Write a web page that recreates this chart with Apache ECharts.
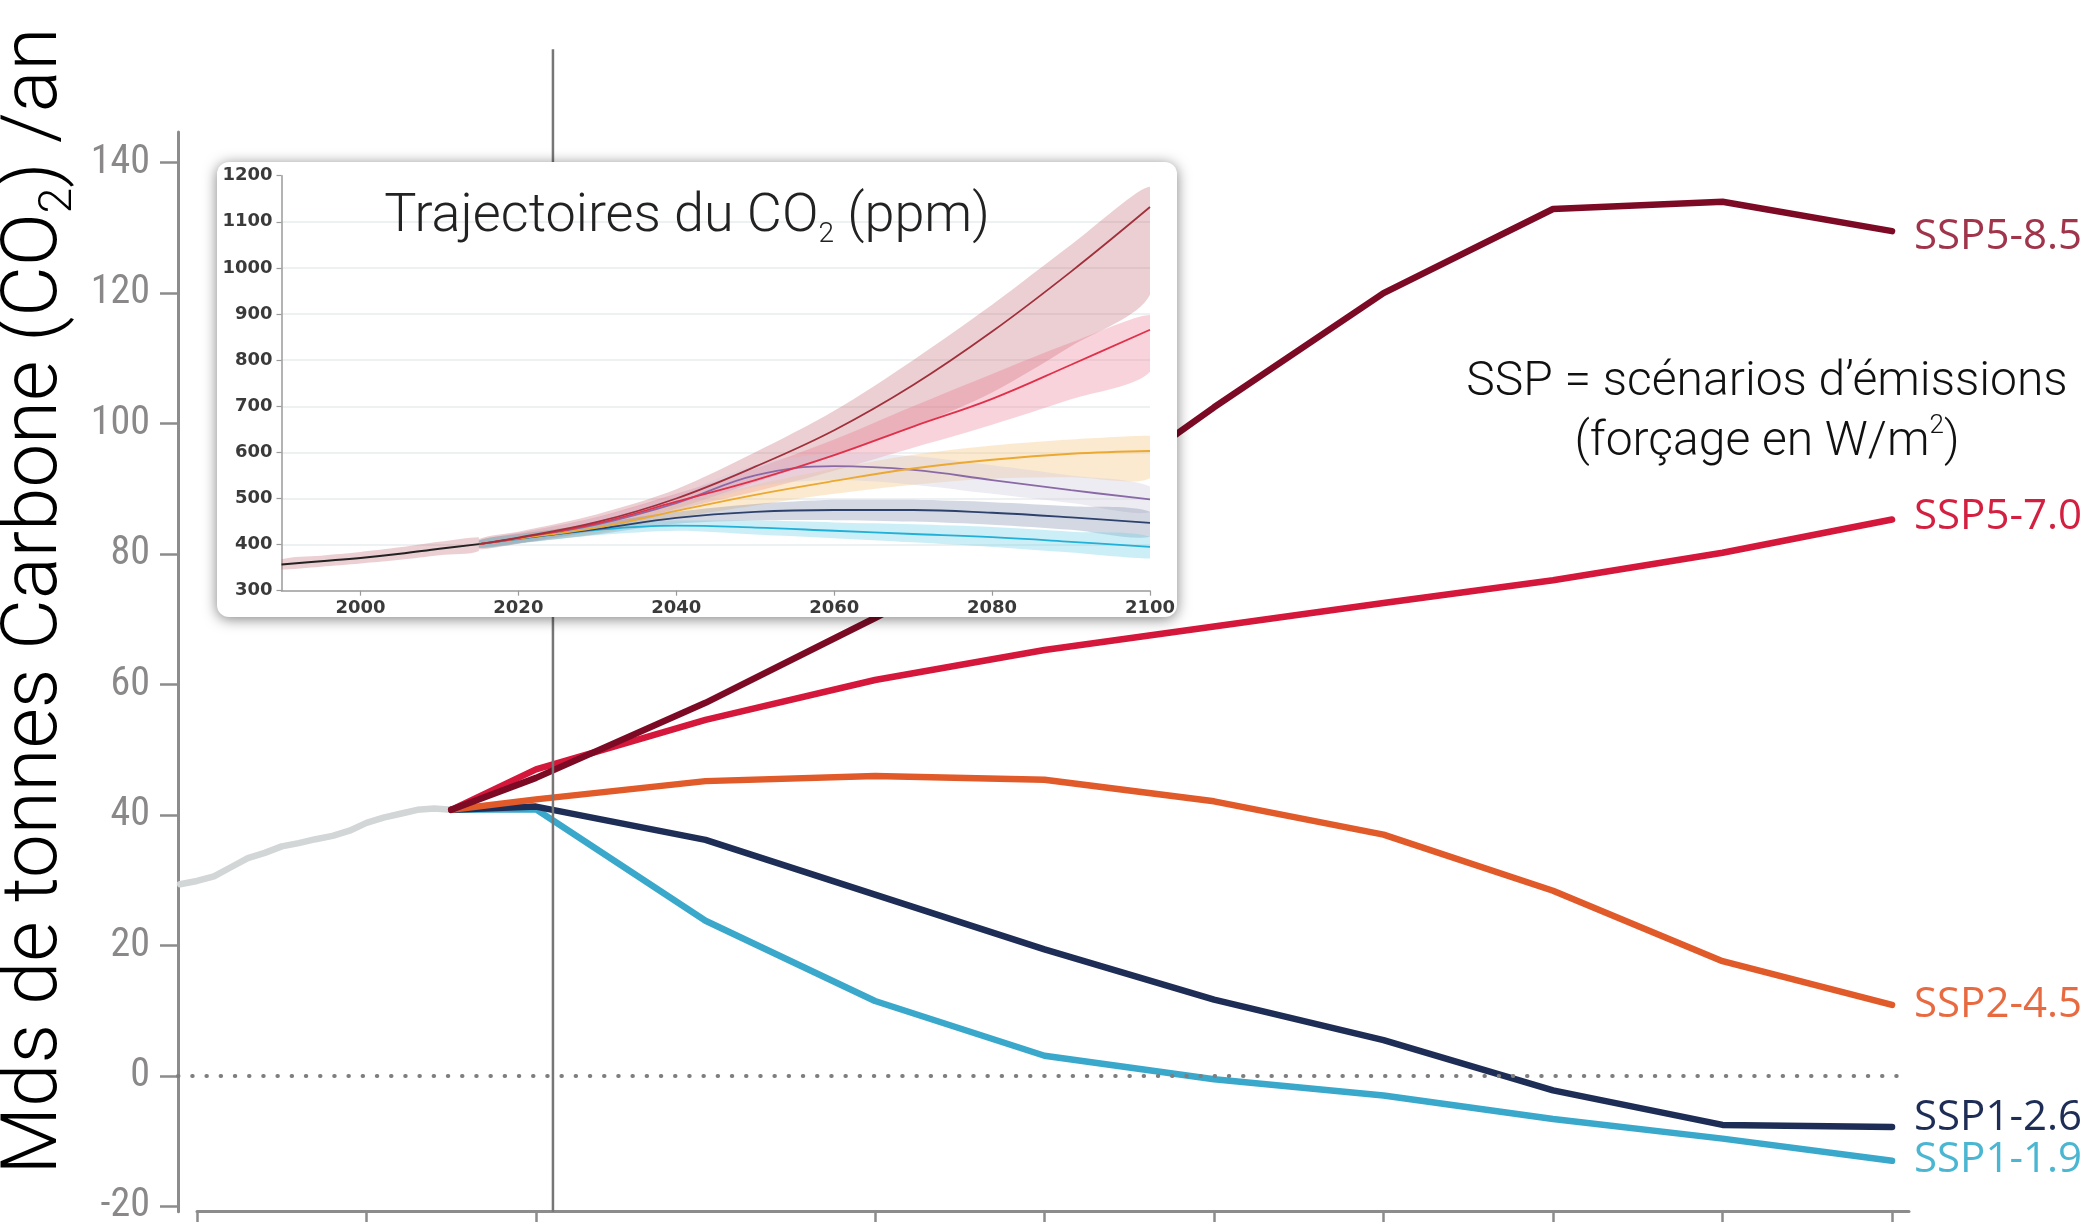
<!DOCTYPE html>
<html>
<head>
<meta charset="utf-8">
<script src="https://cdn.jsdelivr.net/npm/echarts@6/dist/echarts.min.js"></script>
<style>
  html, body { margin: 0; padding: 0; background: #ffffff; }
  #chart { width: 2092px; height: 1222px; }
</style>
</head>
<body>
<div id="chart"></div>
<script>
// ---- Annual CO2 emissions, Gt CO2 / year ----
const histYears = [1999, 2000, 2001, 2002, 2003, 2004, 2005, 2006, 2007, 2008, 2009, 2010, 2011, 2012, 2013, 2014, 2015];
const histEmissions = [29.4, 29.9, 30.6, 32.0, 33.4, 34.2, 35.2, 35.7, 36.3, 36.8, 37.6, 38.8, 39.6, 40.2, 40.8, 41.0, 40.8];

const scenarioYears = [2015, 2020, 2030, 2040, 2050, 2060, 2070, 2080, 2090, 2100];
const ssp119 = [40.8, 40.9, 23.8, 11.5, 3.1, -0.5, -3.0, -6.6, -9.6, -13.0];
const ssp126 = [40.8, 41.3, 36.2, 27.8, 19.4, 11.7, 5.5, -2.2, -7.5, -7.8];
const ssp245 = [40.8, 42.4, 45.2, 46.0, 45.4, 42.1, 37.0, 28.4, 17.6, 10.9];
const ssp570 = [40.8, 47.0, 54.6, 60.7, 65.3, 68.9, 72.5, 76.0, 80.2, 85.3];
const ssp585 = [40.8, 45.7, 57.2, 70.2, 84.0, 102.5, 120.0, 132.9, 134.0, 129.5];

const emissionTicks = [-20, 0, 20, 40, 60, 80, 100, 120, 140];
const yearTicks = [2000, 2010, 2020, 2040, 2050, 2060, 2070, 2080, 2090, 2100];
const todayYear = 2021;

// ---- Atmospheric CO2 concentration, ppm ----
const co2HistYears = [1990, 1995, 2000, 2005, 2010, 2015];
const co2Hist      = [357, 364, 371, 380, 391, 401];
const co2HistLow   = [346, 352, 359, 367, 377, 386];
const co2HistHigh  = [368, 376, 384, 394, 406, 416];

const co2Years = [2015, 2020, 2030, 2040, 2050, 2060, 2070, 2080, 2090, 2100];
const co2Ssp119     = [401, 412, 432, 441, 437, 430, 423, 416, 406, 395];
const co2Ssp119Low  = [393, 402, 420, 430, 422, 414, 405, 395, 383, 370];
const co2Ssp119High = [409, 421, 442, 452, 452, 448, 444, 438, 428, 417];
const co2Ssp126     = [401, 413, 434, 458, 471, 475, 475, 469, 459, 447];
const co2Ssp126Low  = [393, 403, 422, 445, 452, 453, 450, 443, 432, 417];
const co2Ssp126High = [409, 423, 446, 471, 488, 497, 497, 492, 483, 471];
const co2Ssp245     = [401, 413, 437, 473, 508, 538, 565, 584, 597, 603];
const co2Ssp245Low  = [393, 403, 424, 458, 485, 510, 530, 543, 546, 544];
const co2Ssp245High = [409, 423, 450, 488, 530, 565, 595, 615, 628, 636];
const co2Ssp370     = [401, 414, 446, 493, 540, 594, 656, 716, 790, 866];
const co2Ssp370Low  = [393, 403, 432, 475, 515, 560, 610, 660, 715, 775];
const co2Ssp370High = [409, 425, 460, 510, 565, 628, 700, 770, 838, 898];
const co2Ssp534     = [401, 414, 444, 490, 550, 570, 562, 540, 518, 498];
const co2Ssp534Low  = [393, 403, 430, 472, 525, 540, 530, 510, 490, 470];
const co2Ssp534High = [409, 425, 458, 508, 572, 598, 592, 572, 550, 526];
const co2Ssp585     = [401, 415, 449, 500, 569, 648, 746, 862, 992, 1132];
const co2Ssp585Low  = [390, 402, 432, 478, 535, 592, 655, 730, 830, 942];
const co2Ssp585High = [412, 428, 466, 520, 600, 690, 800, 920, 1050, 1176];

const co2YearTicks = [2000, 2020, 2040, 2060, 2080, 2100];

// ---- layout / style constants ----
const Y_MIN = -20.8, Y_MAX = 144.7;
const REF_LINE_TOP = 157.4;
const AXIS_GRAY = '#8c8c8c';
const LIGHT = '"Roboto", "Noto Sans", sans-serif';

const chart = echarts.init(document.getElementById('chart'), null, { renderer: 'canvas' });

function pairs(xs, ys) { return xs.map((x, i) => [x, ys[i]]); }

function scenarioLine(name, values, color, labelColor, labelDy) {
  return {
    type: 'line', name, xAxisIndex: 0, yAxisIndex: 0, z: 2,
    data: pairs(scenarioYears, values),
    symbol: 'none', silent: true,
    lineStyle: { color, width: 6.5, cap: 'round', join: 'round' },
    endLabel: {
      show: true, formatter: '{a}', distance: 22, offset: [0, labelDy],
      color: labelColor, fontSize: 42, fontFamily: '"Open Sans", "Noto Sans", sans-serif'
    }
  };
}

function band(years, lo, hi, color) {
  return {
    type: 'custom', xAxisIndex: 2, yAxisIndex: 2, z: 12, silent: true,
    data: years.map((y, i) => [y, lo[i], hi[i]]),
    encode: { x: 0, y: [1, 2] },
    renderItem(params, api) {
      if (params.dataIndex !== 0) return null;
      const top = years.map((y, i) => api.coord([y, hi[i]]));
      const bottom = years.map((y, i) => api.coord([y, lo[i]])).reverse();
      const pts = top.concat(bottom);
      const xs = pts.map(p => p[0]), ys = pts.map(p => p[1]);
      return {
        type: 'polygon',
        shape: {
          points: pts, smooth: 0.3,
          smoothConstraint: [[Math.min(...xs), Math.min(...ys)], [Math.max(...xs), Math.max(...ys)]]
        },
        style: { fill: color }
      };
    }
  };
}

function co2Line(years, values, color, width) {
  return {
    type: 'line', xAxisIndex: 2, yAxisIndex: 2, z: 13, silent: true,
    data: pairs(years, values), symbol: 'none', smooth: 0.4,
    lineStyle: { color, width }
  };
}

const insetLabel = {
  fontFamily: '"DejaVu Sans", sans-serif', fontWeight: 'bold', fontSize: 18, color: '#3a3a3a',
  formatter: v => String(v)
};

const option = {
  animation: false,
  backgroundColor: '#ffffff',
  grid: [
    { left: 178, top: 132, width: 1731, height: 1079.7, outerBoundsMode: 'none' },
    { left: 197, top: 1100, width: 1712, height: 111.7, outerBoundsMode: 'none' },
    { left: 281.5, top: 175.7, width: 868.5, height: 415, outerBoundsMode: 'none' }
  ],
  xAxis: [
    { gridIndex: 0, type: 'value', min: 1998.88, max: 2101.0, show: false },
    {
      gridIndex: 1, type: 'value', min: 2000, max: 2101.0, z: 1,
      axisLine: { show: true, onZero: false, lineStyle: { color: AXIS_GRAY, width: 3 } },
      axisTick: { show: true, length: 11, customValues: yearTicks, lineStyle: { color: AXIS_GRAY, width: 2.5 } },
      axisLabel: { show: false }, splitLine: { show: false }
    },
    {
      gridIndex: 2, type: 'value', min: 1990, max: 2100, z: 11,
      axisLine: { show: true, onZero: false, lineStyle: { color: '#9a9a9a', width: 1.5 } },
      axisTick: { show: true, length: 5, customValues: co2YearTicks, lineStyle: { color: '#9a9a9a', width: 1.2 } },
      axisLabel: Object.assign({ customValues: co2YearTicks, margin: 9 }, insetLabel),
      splitLine: { show: false }
    }
  ],
  yAxis: [
    {
      gridIndex: 0, type: 'value', min: Y_MIN, max: Y_MAX, z: 1,
      axisLine: { show: true, onZero: false, lineStyle: { color: AXIS_GRAY, width: 3 } },
      axisTick: { show: true, length: 18, customValues: emissionTicks, lineStyle: { color: AXIS_GRAY, width: 2.5 } },
      axisLabel: {
        customValues: emissionTicks, margin: 28, color: '#8a8888', fontSize: 40, fontWeight: 'normal',
        fontFamily: '"Liberation Sans Narrow", "Roboto Condensed", "Noto Sans Condensed", "DejaVu Sans Condensed", "Roboto", sans-serif'
      },
      splitLine: { show: false }
    },
    { gridIndex: 1, type: 'value', min: 0, max: 1, show: false },
    {
      gridIndex: 2, type: 'value', min: 300, max: 1200, interval: 100, z: 11,
      axisLine: { show: true, onZero: false, lineStyle: { color: '#9a9a9a', width: 1.5 } },
      axisTick: { show: true, length: 5, lineStyle: { color: '#9a9a9a', width: 1.2 } },
      axisLabel: Object.assign({ margin: 9 }, insetLabel),
      splitLine: { show: true, showMinLine: false, showMaxLine: false, lineStyle: { color: '#e8ecec', width: 1.5 } }
    }
  ],
  graphic: [
    {
      type: 'rect', z: 10, silent: true,
      shape: { x: 217, y: 162, width: 960, height: 455, r: 12 },
      style: { fill: '#ffffff', shadowBlur: 14, shadowColor: 'rgba(0,0,0,0.5)', shadowOffsetX: 0, shadowOffsetY: 2 }
    },
    {
      type: 'text', z: 14, silent: true, x: 687, y: 217,
      style: {
        text: 'Trajectoires du CO{sub|2} (ppm)',
        fill: '#222222', fontSize: 54, fontWeight: 300, fontFamily: LIGHT,
        align: 'center', verticalAlign: 'middle', lineHeight: 64,
        rich: { sub: { fontSize: 28, fontWeight: 300, fontFamily: LIGHT, fill: '#222222', lineHeight: 25, verticalAlign: 'bottom' } }
      }
    },
    {
      type: 'text', z: 5, silent: true, x: 36, y: 601, rotation: Math.PI / 2,
      style: {
        text: 'Mds de tonnes Carbone (CO{sub|2}) /an',
        fill: '#000000', fontSize: 78, fontWeight: 300, fontFamily: LIGHT,
        align: 'center', verticalAlign: 'middle', lineHeight: 92,
        rich: { sub: { fontSize: 46, fontWeight: 300, fontFamily: LIGHT, fill: '#000000', lineHeight: 50, verticalAlign: 'bottom' } }
      }
    },
    {
      type: 'text', z: 5, silent: true, x: 1767, y: 413,
      style: {
        text: 'SSP = scénarios d\u2019émissions\n(forçage en W/m{sup|2})',
        fill: '#111111', fontSize: 48, fontWeight: 300, fontFamily: LIGHT,
        align: 'center', verticalAlign: 'middle', lineHeight: 60,
        rich: { sup: { fontSize: 26, fontWeight: 300, fontFamily: LIGHT, fill: '#111111', lineHeight: 36, verticalAlign: 'top' } }
      }
    }
  ],
  series: [
    {
      type: 'line', name: 'historique', xAxisIndex: 0, yAxisIndex: 0, z: 2, silent: true,
      data: pairs(histYears, histEmissions), symbol: 'none',
      lineStyle: { color: '#d2d6d6', width: 6.5, cap: 'round', join: 'round' },
      markLine: {
        silent: true, symbol: ['none', 'none'], label: { show: false },
        lineStyle: { color: '#7e7e7e', width: 4, type: [0.5, 13.7], cap: 'round' },
        data: [{ yAxis: 0 }]
      }
    },
    scenarioLine('SSP1-1.9', ssp119, '#3aa8cb', '#4bb6d2', -1),
    scenarioLine('SSP1-2.6', ssp126, '#1e2d55', '#1e2d55', -9),
    scenarioLine('SSP2-4.5', ssp245, '#e05a2a', '#e86a40', 0),
    scenarioLine('SSP5-7.0', ssp570, '#d4173a', '#d42040', -2),
    scenarioLine('SSP5-8.5', ssp585, '#7d0a25', '#a0344a', 6),
    {
      type: 'line', name: 'aujourd\u2019hui', xAxisIndex: 0, yAxisIndex: 0, z: 3, silent: true, clip: false,
      data: [[todayYear, Y_MIN], [todayYear, REF_LINE_TOP]], symbol: 'none',
      lineStyle: { color: '#767676', width: 2.5 }
    },

    // CO2 concentration panel
    band(co2HistYears, co2HistLow, co2HistHigh, 'rgba(190,95,105,0.30)'),
    band(co2Years, co2Ssp585Low, co2Ssp585High, 'rgba(190,95,105,0.30)'),
    band(co2Years, co2Ssp370Low, co2Ssp370High, 'rgba(235,110,135,0.30)'),
    band(co2Years, co2Ssp245Low, co2Ssp245High, 'rgba(245,195,120,0.35)'),
    band(co2Years, co2Ssp534Low, co2Ssp534High, 'rgba(205,200,222,0.35)'),
    band(co2Years, co2Ssp126Low, co2Ssp126High, 'rgba(110,125,160,0.30)'),
    band(co2Years, co2Ssp119Low, co2Ssp119High, 'rgba(110,205,230,0.35)'),
    co2Line(co2Years, co2Ssp119, '#20b0d8', 1.8),
    co2Line(co2Years, co2Ssp126, '#2d416d', 1.8),
    co2Line(co2Years, co2Ssp534, '#8a6aa6', 1.8),
    co2Line(co2Years, co2Ssp245, '#eba832', 1.8),
    co2Line(co2Years, co2Ssp370, '#e0304a', 1.8),
    co2Line(co2Years, co2Ssp585, '#a0303c', 1.8),
    co2Line(co2HistYears, co2Hist, '#222222', 2)
  ]
};

chart.setOption(option);
</script>
</body>
</html>
